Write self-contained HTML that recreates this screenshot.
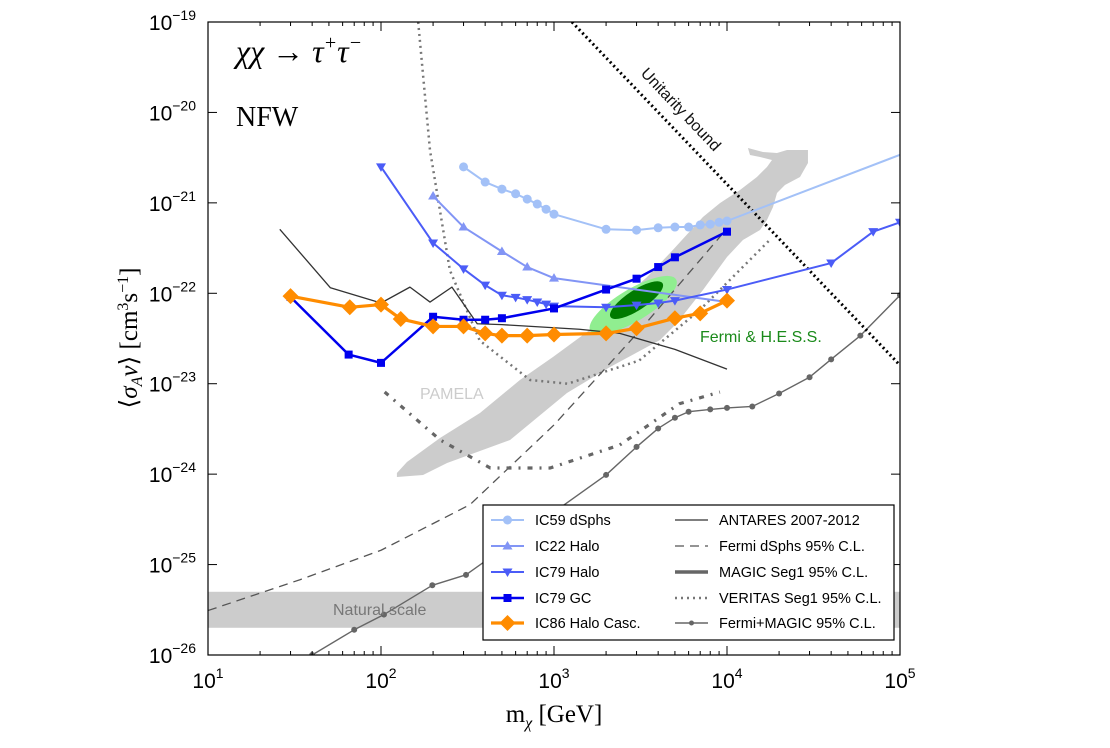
<!DOCTYPE html>
<html><head><meta charset="utf-8"><style>
html,body{margin:0;padding:0;background:#fff;}
svg{display:block;font-family:"Liberation Sans","DejaVu Sans",sans-serif;}
</style></head><body>
<svg id="chart" width="1110" height="748" viewBox="0 0 1110 748" xmlns="http://www.w3.org/2000/svg">
<g id="plot"></g>
<g id="axes"></g>
<text x="236" y="62" font-family="Liberation Serif,serif" font-style="italic" font-size="32">χχ → τ<tspan font-size="20" dy="-13">+</tspan><tspan dy="13">τ</tspan><tspan font-size="20" dy="-13">−</tspan></text>
<text x="236" y="126" font-family="Liberation Serif,serif" font-size="28">NFW</text>
<text x="420" y="399" font-size="16" fill="#cccccc">PAMELA</text>
<text x="333" y="615" font-size="16" fill="#777">Natural scale</text>
<text x="700" y="342" font-size="16" fill="#1a8a1a">Fermi &amp; H.E.S.S.</text>
<text x="0" y="0" font-size="16" fill="#111" transform="translate(640,74) rotate(46.5)">Unitarity bound</text>
<text x="0" y="0" font-family="Liberation Serif,serif" font-size="25" text-anchor="middle" transform="translate(137,338) rotate(-90)">⟨<tspan font-style="italic">σ</tspan><tspan font-size="16" font-style="italic" dy="5">A</tspan><tspan font-style="italic" dy="-5">v</tspan>⟩ [cm<tspan font-size="16" dy="-9">3</tspan><tspan dy="9">s</tspan><tspan font-size="16" dy="-9">−1</tspan><tspan dy="9">]</tspan></text>
<text x="554" y="722" font-family="Liberation Serif,serif" font-size="25" text-anchor="middle">m<tspan font-size="16" font-style="italic" dy="6">χ</tspan><tspan dy="-6"> [GeV]</tspan></text>
<g id="legend"></g>
</svg>
<script>
const ic59M=[300,400,500,600,700,800,900,1000,2000,3000,4000,5000,6000,7000,8000,9000,10000,100000];
const ic59S=[2.5e-21,1.7e-21,1.42e-21,1.26e-21,1.1e-21,9.7e-22,8.5e-22,7.5e-22,5.1e-22,5.0e-22,5.3e-22,5.4e-22,5.4e-22,5.7e-22,5.8e-22,6.1e-22,6.3e-22,3.4e-21];
const ic59Mk=[300,400,500,600,700,800,900,1000,2000,3000,4000,5000,6000,7000,8000,9000,10000,50000];
const ic22M=[200,300,500,700,1000,10000];
const ic22S=[1.19e-21,5.4e-22,2.9e-22,1.95e-22,1.47e-22,8e-23];
const ic79hM=[100,200,300,400,500,600,700,800,900,1000,2000,3000,4000,5000,10000,40000,70000,100000];
const ic79hS=[2.5e-21,3.6e-22,1.86e-22,1.23e-22,9.5e-23,9e-23,8.5e-23,8e-23,7.6e-23,7.2e-23,7e-23,7.4e-23,7.8e-23,8.3e-23,1.1e-22,2.16e-22,4.8e-22,6.1e-22];
const ic79gM=[30,65,100,200,300,400,500,1000,2000,3000,4000,5000,10000];
const ic79gS=[9.1e-23,2.1e-23,1.7e-23,5.5e-23,5.1e-23,5.1e-23,5.3e-23,6.8e-23,1.1e-22,1.45e-22,1.95e-22,2.5e-22,4.8e-22];
const ic86M=[30,66,100,130,200,300,400,500,700,1000,2000,3000,5000,7000,10000];
const ic86S=[9.3e-23,7e-23,7.5e-23,5.2e-23,4.3e-23,4.3e-23,3.6e-23,3.4e-23,3.4e-23,3.5e-23,3.6e-23,4.1e-23,5.3e-23,6e-23,8.3e-23];
const antM=[26,51,100,147,192,257,360,500,1400,2400,5000,10000];
const antS=[5.1e-22,1.15e-22,7.8e-23,1.17e-22,8e-23,1.17e-22,4.6e-23,4.5e-23,4.0e-23,3.6e-23,2.4e-23,1.45e-23];
const fdM=[10,34,100,327,1000,3140,10000];
const fdS=[3.1e-26,6.8e-26,1.44e-25,4.6e-25,3.5e-24,3.9e-23,5.2e-22];
const magM=[105,219,428,950,2400,5300,9100];
const magS=[8.1e-24,2.4e-24,1.17e-24,1.17e-24,2.1e-24,6.0e-24,8.1e-24];
const verM=[164,192,250,372,727,1200,3100,7000,17700];
const verS=[1e-19,3.8e-21,1.8e-22,3.0e-23,1.1e-23,1.0e-23,1.8e-23,6.6e-23,3.9e-22];
const fmM=[36,40,70,104,198,310,2000,3000,4000,5000,6000,8000,10000,14000,20000,30000,40000,59000,100000];
const fmS=[8.5e-27,1e-26,1.9e-26,2.8e-26,5.9e-26,7.7e-26,9.8e-25,2.0e-24,3.2e-24,4.2e-24,4.9e-24,5.2e-24,5.4e-24,5.6e-24,7.8e-24,1.18e-23,1.86e-23,3.4e-23,9.5e-23];
const unitM=[1270,100000];
const unitS=[1e-19,1.6e-23];
const natM=[10,100000];
const natLo=2e-26, natHi=5e-26;
const bandLogM=[2.092,2.150,2.341,2.572,2.803,2.994,3.191,3.283,3.538,3.671,3.861,3.960,4.075,4.173,4.231,4.260,4.191,4.133,4.121,4.208,4.289,4.347,4.468,4.468,4.422,4.335,4.289,4.266,4.231,4.191,4.092,4.000,3.861,3.711,3.613,3.324,3.075,2.746,2.382,2.243,2.092];
const bandLogS=[-23.987,-23.866,-23.600,-23.324,-22.959,-22.705,-22.428,-22.262,-21.820,-21.554,-21.156,-21.002,-20.858,-20.714,-20.603,-20.526,-20.493,-20.471,-20.393,-20.438,-20.449,-20.415,-20.415,-20.559,-20.714,-20.803,-20.891,-21.046,-21.190,-21.300,-21.411,-21.599,-21.964,-22.329,-22.517,-22.815,-23.103,-23.622,-23.877,-24.009,-24.031];
const greenCenterM=[2870,3000];
const greenCenterS=[7.4e-23,8.4e-23];
const xTicks=[1,2,3,4,5];
const yTicks=[-19,-20,-21,-22,-23,-24,-25,-26];

const NS="http://www.w3.org/2000/svg";
const X0=208,X1=900,Y0=22,Y1=655;
const xs=m=>X0+(Math.log10(m)-1)/4*(X1-X0);
const ys=s=>Y0+(-19-Math.log10(s))/7*(Y1-Y0);
const xl=l=>X0+(l-1)/4*(X1-X0);
const yl=l=>Y0+(-19-l)/7*(Y1-Y0);
function mk(tag,attrs,parent){const e=document.createElementNS(NS,tag);for(const k in attrs)e.setAttribute(k,attrs[k]);parent.appendChild(e);return e;}
const plot=document.getElementById('plot');
const axes=document.getElementById('axes');
const defs=mk('defs',{},plot);
const cp=mk('clipPath',{id:'clip'},defs);
mk('rect',{x:X0,y:Y0,width:X1-X0,height:Y1-Y0},cp);
const g=mk('g',{'clip-path':'url(#clip)'},plot);

let nb=mk('rect',{x:xs(natM[0]),y:ys(natHi),width:xs(natM[1])-xs(natM[0]),height:ys(natLo)-ys(natHi),fill:'#cccccc'},g);


let bp=mk('polygon',{points:bandLogM.map((l,i)=>xl(l)+','+yl(bandLogS[i])).join(' '),fill:'#cccccc'},g);


let ge1=mk('ellipse',{cx:xs(greenCenterM[0]),cy:ys(greenCenterS[0]),rx:50,ry:16,fill:'#90ee90',transform:`rotate(-31 ${xs(greenCenterM[0])} ${ys(greenCenterS[0])})`},g);


let ge2=mk('ellipse',{cx:xs(greenCenterM[1]),cy:ys(greenCenterS[1]),rx:31,ry:10,fill:'#007a00',transform:`rotate(-33 ${xs(greenCenterM[1])} ${ys(greenCenterS[1])})`},g);



function line(M,S,st,name){
  const p=mk('polyline',{points:M.map((m,i)=>xs(m)+','+ys(S[i])).join(' '),fill:'none',stroke:st.c,'stroke-width':st.w,'stroke-linejoin':'round'},g);
  if(st.d)p.setAttribute('stroke-dasharray',st.d);
  
  
  return p;
}
function marker(type,x,y,size,color,parent){
  let e;
  if(type==='o')e=mk('circle',{cx:x,cy:y,r:size,fill:color},parent);
  else if(type==='s')e=mk('rect',{x:x-size,y:y-size,width:2*size,height:2*size,fill:color},parent);
  else if(type==='D')e=mk('polygon',{points:`${x},${y-size} ${x+size},${y} ${x},${y+size} ${x-size},${y}`,fill:color},parent);
  else if(type==='^')e=mk('polygon',{points:`${x},${y-size} ${x+size},${y+size*0.7} ${x-size},${y+size*0.7}`,fill:color},parent);
  else if(type==='v')e=mk('polygon',{points:`${x},${y+size} ${x+size},${y-size*0.7} ${x-size},${y-size*0.7}`,fill:color},parent);
  return e;
}
function marks(M,S,type,size,color,name){
  M.forEach((m,i)=>{const e=marker(type,xs(m),ys(S[i]),size,color,g);
    
    });
}
const st={
  ant:{c:'#333',w:1.3},fd:{c:'#555',w:1.3,d:'9,6'},mag:{c:'#666',w:3.2,d:'5,7,2,7'},
  ver:{c:'#777',w:2.5,d:'2,4'},fm:{c:'#666',w:1.4},unit:{c:'#000',w:3,d:'2,3'},
  ic59:{c:'#a3c1f7',w:2},ic22:{c:'#8295f5',w:2},ic79h:{c:'#4b5cf7',w:2},ic79g:{c:'#0000ee',w:2.5},ic86:{c:'#ff8c00',w:3.2}
};
line(verM,verS,st.ver,'veritas-seg1-line');
line(fdM,fdS,st.fd,'fermi-dsphs-line');
line(magM,magS,st.mag,'magic-seg1-line');
line(fmM,fmS,st.fm,'fermi-magic-line');
marks(fmM.slice(1),fmS.slice(1),'o',3,'#666','fermi-magic-point');
line(unitM,unitS,st.unit,'unitarity-bound-line');
line(antM,antS,st.ant,'antares-line');
line(ic59M,ic59S,st.ic59,'ic59-dsphs-line');
marks(ic59Mk.slice(0,17),ic59S.slice(0,17),'o',4.5,'#a3c1f7','ic59-dsphs-point');
line(ic22M,ic22S,st.ic22,'ic22-halo-line');
marks(ic22M.slice(0,5),ic22S.slice(0,5),'^',5,'#8295f5','ic22-halo-point');
line(ic79hM,ic79hS,st.ic79h,'ic79-halo-line');
marks(ic79hM,ic79hS,'v',5,'#4b5cf7','ic79-halo-point');
line(ic79gM,ic79gS,st.ic79g,'ic79-gc-line');
marks(ic79gM,ic79gS,'s',4,'#0000ee','ic79-gc-point');
line(ic86M,ic86S,st.ic86,'ic86-halo-casc-line');
marks(ic86M,ic86S,'D',8,'#ff8c00','ic86-halo-casc-point');

let fr=mk('rect',{x:X0,y:Y0,width:X1-X0,height:Y1-Y0,fill:'none',stroke:'#000','stroke-width':1.2},axes);


function tl(x1,y1,x2,y2){mk('line',{x1,y1,x2,y2,stroke:'#000','stroke-width':1},axes);}
xTicks.forEach(l=>{
  const x=xl(l);tl(x,Y1,x,Y1-9);tl(x,Y0,x,Y0+9);
  const t=mk('text',{x:x,y:Y1+33,'font-size':21,'text-anchor':'middle'},axes);
  t.innerHTML='10<tspan font-size="14" dy="-10">'+l+'</tspan>';
  
  
  if(l<5)for(let k=2;k<10;k++){const xx=xl(l+Math.log10(k));tl(xx,Y1,xx,Y1-4);tl(xx,Y0,xx,Y0+4);}
});
yTicks.forEach(l=>{
  const y=yl(l);tl(X0,y,X0+9,y);tl(X1,y,X1-9,y);
  const t=mk('text',{x:X0-12,y:y+8,'font-size':21,'text-anchor':'end'},axes);
  t.innerHTML='10<tspan font-size="14" dy="-10">'+l.toString().replace('-','−')+'</tspan>';
  
  
  if(l>-19)for(let k=2;k<10;k++){const yy=yl(l+Math.log10(k));tl(X0,yy,X0+4,yy);tl(X1,yy,X1-4,yy);}
});

const lg=document.getElementById('legend');
const lb=mk('rect',{x:483,y:505,width:411,height:135,fill:'#fff',stroke:'#000','stroke-width':1.2},lg);


const entries=[
 [491,520,'IC59 dSphs',st.ic59,'o',4.5],[491,546,'IC22 Halo',st.ic22,'^',5],[491,572,'IC79 Halo',st.ic79h,'v',5],
 [491,598,'IC79 GC',st.ic79g,'s',4],[491,623,'IC86 Halo Casc.',st.ic86,'D',8],
 [675,520,'ANTARES 2007-2012',st.ant,null],[675,546,'Fermi dSphs 95% C.L.',st.fd,null],[675,572,'MAGIC Seg1 95% C.L.',{c:'#666',w:3.5},null],
 [675,598,'VERITAS Seg1 95% C.L.',st.ver,null],[675,623,'Fermi+MAGIC 95% C.L.',st.fm,'o',2.5]
];
entries.forEach(e=>{
  const [x,y,label,s,mt,ms]=e;
  const grp=mk('g',{},lg);
  
  
  const ln=mk('line',{x1:x,y1:y,x2:x+33,y2:y,stroke:s.c,'stroke-width':s.w},grp);
  if(s.d&&s.d!=='5,7,2,7')ln.setAttribute('stroke-dasharray',s.d);
  if(mt)marker(mt,x+16.5,y,ms,s.c,grp);
  const t=mk('text',{x:x+44,y:y+5,'font-size':14.5},grp);
  t.textContent=label;
});
</script>
</body></html>
